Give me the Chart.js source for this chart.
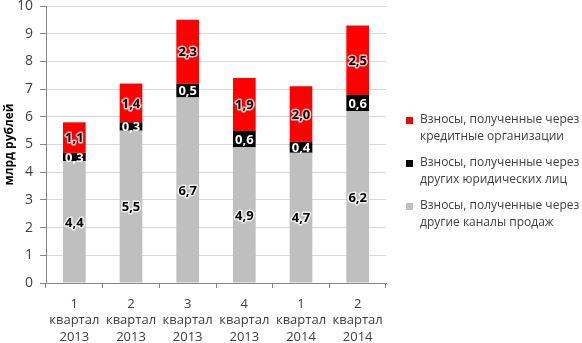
<!DOCTYPE html>
<html>
<head>
<meta charset="utf-8">
<script src="https://cdn.jsdelivr.net/npm/chart.js@4/dist/chart.umd.min.js"></script>
<style>
  html, body { margin: 0; padding: 0; background: #fff; }
  #wrap { width: 582px; height: 343px; position: relative; }
</style>
</head>
<body>
<div id="wrap"><canvas id="chart"></canvas></div>
<script>
'use strict';

const quarters = [['1', 'квартал', '2013'], ['2', 'квартал', '2013'], ['3', 'квартал', '2013'],
                  ['4', 'квартал', '2013'], ['1', 'квартал', '2014'], ['2', 'квартал', '2014']];
const otherChannels = [4.4, 5.5, 6.7, 4.9, 4.7, 6.2];
const otherLegal = [0.3, 0.3, 0.5, 0.6, 0.4, 0.6];
const creditOrgs = [1.1, 1.4, 2.3, 1.9, 2.0, 2.5];
const seriesNames = [
  ['Взносы, полученные через', 'кредитные организации'],
  ['Взносы, полученные через', 'других юридических лиц'],
  ['Взносы, полученные через', 'другие каналы продаж']
];
const FONT = '"Open Sans", sans-serif';

const valueLabels = {
  id: 'valueLabels',
  afterDatasetsDraw(chart) {
    const ctx = chart.ctx;
    ctx.save();
    ctx.font = 'bold 13px ' + FONT;
    ctx.textAlign = 'center';
    ctx.textBaseline = 'middle';
    ctx.lineJoin = 'round';
    chart.data.datasets.forEach((ds, i) => {
      chart.getDatasetMeta(i).data.forEach((bar, j) => {
        const txt = ds.data[j].toFixed(1).replace('.', ',');
        const y = (bar.y + bar.base) / 2 + 1;
        if (ds.label === 'legal') {
          ctx.fillStyle = '#fff';
          ctx.fillText(txt, bar.x, y);
        } else {
          ctx.strokeStyle = 'rgba(255,255,255,0.75)';
          ctx.lineWidth = 3;
          ctx.strokeText(txt, bar.x, y);
          ctx.fillStyle = '#000';
          ctx.fillText(txt, bar.x, y);
        }
      });
    });
    ctx.restore();
  }
};

const sideLegend = {
  id: 'sideLegend',
  afterDraw(chart) {
    const ctx = chart.ctx;
    const colors = ['#ff0000', '#000000', '#bfbfbf'];
    const tops = [120, 163, 206];
    ctx.save();
    ctx.font = '12px ' + FONT;
    ctx.textBaseline = 'middle';
    seriesNames.forEach((lines, i) => {
      ctx.fillStyle = colors[i];
      ctx.fillRect(406, tops[i] - 3, 7, 7);
      ctx.fillStyle = '#404040';
      lines.forEach((ln, k) => ctx.fillText(ln, 420, tops[i] + k * 17));
    });
    ctx.restore();
  }
};

new Chart(document.getElementById('chart'), {
  type: 'bar',
  data: {
    labels: quarters,
    datasets: [
      { label: 'other', data: otherChannels, backgroundColor: '#bfbfbf' },
      { label: 'legal', data: otherLegal, backgroundColor: '#000000' },
      { label: 'credit', data: creditOrgs, backgroundColor: '#ff0000' }
    ]
  },
  options: {
    animation: false,
    responsive: true,
    maintainAspectRatio: false,
    barPercentage: 0.4,
    categoryPercentage: 1,
    layout: { padding: { top: 6, right: 196, bottom: 0, left: 0 } },
    scales: {
      x: {
        stacked: true,
        grid: { drawOnChartArea: false, tickLength: 5, tickColor: '#868686', offset: true },
        border: { color: '#868686' },
        ticks: { color: '#404040', font: { size: 13, family: FONT, lineHeight: 1.27 }, padding: 8, maxRotation: 0 },
        afterFit: s => { s.height = 60; }
      },
      y: {
        stacked: true,
        min: 0,
        max: 10,
        ticks: { stepSize: 1, color: '#404040', font: { size: 14, family: FONT }, padding: 7 },
        grid: { color: '#d9d9d9', tickLength: 6, tickColor: '#868686' },
        border: { color: '#868686' },
        title: { display: true, text: 'млрд рублей', color: '#000', font: { size: 12, weight: 'bold', family: FONT }, padding: 2 },
        afterFit: s => { s.width = 46; s.paddingTop = 0; s.paddingBottom = 0; }
      }
    },
    plugins: {
      legend: { display: false },
      tooltip: { enabled: false }
    }
  },
  plugins: [valueLabels, sideLegend]
});
</script>
</body>
</html>
